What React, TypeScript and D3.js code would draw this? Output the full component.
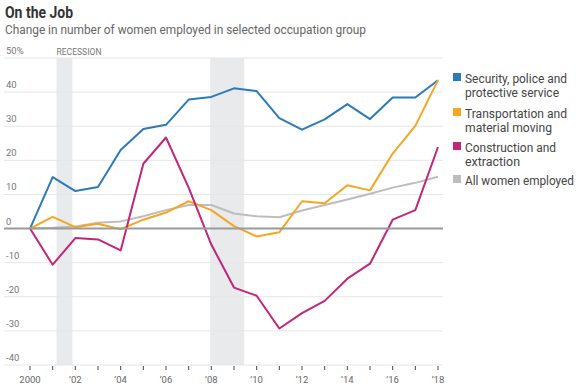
import { useEffect, useRef } from "react"
import * as d3 from "d3"

const years = d3.range(2000, 2019)

const security = [0, 15.1, 11.0, 12.2, 23.0, 29.2, 30.4, 37.8, 38.6, 41.1, 40.3, 32.4, 29.0, 32.0, 36.5, 32.1, 38.4, 38.4, 43.5]
const transport = [0, 3.4, 0.4, 1.4, -0.2, 2.6, 4.7, 8.0, 5.4, 0.7, -2.3, -1.1, 8.0, 7.4, 12.7, 11.2, 22.0, 30.1, 43.5]
const construction = [0, -10.6, -2.8, -3.2, -6.4, 19.0, 26.7, 12.0, -4.7, -17.3, -19.7, -29.3, -24.8, -21.2, -14.7, -10.3, 2.6, 5.4, 23.9]
const allWomen = [0, 0.2, 0.6, 1.7, 2.1, 3.6, 5.4, 6.9, 6.9, 4.4, 3.6, 3.3, 5.3, 6.9, 8.5, 10.2, 12.0, 13.4, 15.2]

const yTicks = [50, 40, 30, 20, 10, 0, -10, -20, -30, -40]
const xLabelYears = [2000, 2002, 2004, 2006, 2008, 2010, 2012, 2014, 2016, 2018]

// recession spans in fractional years
const recessions = [
  [2001.17, 2001.87],
  [2007.95, 2009.45],
]

const series = [
  { name: ["Security, police and", "protective service"], widths: [102, 94], values: security, color: "#2b7bb9" },
  { name: ["Transportation and", "material moving"], widths: [102, 87], values: transport, color: "#f5a623" },
  { name: ["Construction and", "extraction"], widths: [91, 55], values: construction, color: "#c1267a" },
  { name: ["All women employed"], widths: [109], values: allWomen, color: "#bdbdbd" },
]

const FONT = "'Roboto', 'Noto Sans', sans-serif"

export default function App() {
  const svgRef = useRef<SVGSVGElement>(null)

  useEffect(() => {
    document.body.style.margin = "0"
    if (!svgRef.current) return
    const svg = d3.select(svgRef.current)
    svg.selectAll("*").remove()

    const x = d3.scaleLinear().domain([2000, 2018]).range([30, 438])
    const y = d3.scaleLinear().domain([-40, 50]).range([365, 58])
    const gridLeft = 4
    const gridRight = 443

    // title (narrow font squeezed with textLength)
    svg.append("text").attr("x", 5).attr("y", 18)
      .attr("textLength", 68).attr("lengthAdjust", "spacingAndGlyphs")
      .style("font-family", FONT).style("font-size", "16px").style("font-weight", "bold")
      .style("fill", "#333").text("On the Job")
    svg.append("text").attr("x", 5).attr("y", 34)
      .attr("textLength", 361).attr("lengthAdjust", "spacingAndGlyphs")
      .style("font-family", FONT).style("font-size", "12.5px")
      .style("fill", "#666").text("Change in number of women employed in selected occupation group")

    // recession bands
    svg.append("g").selectAll("rect").data(recessions).enter().append("rect")
      .attr("x", (d) => x(d[0]))
      .attr("width", (d) => x(d[1]) - x(d[0]))
      .attr("y", y(50))
      .attr("height", y(-40) - y(50))
      .style("fill", "#e9eaec")

    svg.append("text").attr("x", 56.5).attr("y", 55)
      .attr("textLength", 45).attr("lengthAdjust", "spacingAndGlyphs")
      .style("font-family", FONT).style("font-size", "9.5px")
      .style("fill", "#777").text("RECESSION")

    // gridlines
    svg.append("g").selectAll("line").data(yTicks.filter((d) => d !== 0)).enter().append("line")
      .attr("x1", gridLeft).attr("x2", gridRight)
      .attr("y1", (d) => y(d)).attr("y2", (d) => y(d))
      .style("stroke", "#e6e6e6").style("stroke-width", 1)

    svg.append("g").selectAll("text").data(yTicks).enter().append("text")
      .attr("x", 6).attr("y", (d) => y(d) - 4)
      .style("font-family", FONT).style("font-size", "9.5px")
      .style("fill", "#777")
      .text((d) => (d === 50 ? "50%" : String(d)))

    // x ticks
    svg.append("g").selectAll("line").data(years).enter().append("line")
      .attr("x1", (d) => x(d)).attr("x2", (d) => x(d))
      .attr("y1", y(-40) + 1).attr("y2", y(-40) + 5)
      .style("stroke", "#444").style("stroke-width", 1)

    svg.append("g").selectAll("text").data(xLabelYears).enter().append("text")
      .attr("x", (d) => x(d)).attr("y", 383)
      .attr("text-anchor", "middle")
      .style("font-family", FONT).style("font-size", "9.5px")
      .style("fill", "#666")
      .text((d) => (d === 2000 ? "2000" : "\u2019" + String(d).slice(2)))

    // lines, all women first so it sits behind
    const line = d3.line<number>().x((_, i) => x(years[i])).y((d) => y(d))
    const order = [3, 0, 1, 2]
    svg.append("g").selectAll("path").data(order.map((i) => series[i])).enter().append("path")
      .attr("d", (d) => line(d.values))
      .style("fill", "none")
      .style("stroke", (d) => d.color)
      .style("stroke-width", 2)
      .style("stroke-linejoin", "round")

    // zero line on top
    svg.append("line")
      .attr("x1", gridLeft).attr("x2", gridRight)
      .attr("y1", y(0)).attr("y2", y(0))
      .style("stroke", "#9a9a9a").style("stroke-width", 2)

    // legend
    const legend = svg.append("g").attr("transform", "translate(453,0)")
    const rowTops = [73, 108, 142, 175]
    series.forEach((s, i) => {
      const g = legend.append("g").attr("transform", `translate(0,${rowTops[i]})`)
      g.append("rect").attr("x", 0).attr("y", 0).attr("width", 8).attr("height", 8).style("fill", s.color)
      s.name.forEach((t, j) => {
        g.append("text").attr("x", 12).attr("y", 9.5 + j * 14.7)
          .attr("textLength", s.widths[j]).attr("lengthAdjust", "spacingAndGlyphs")
          .style("font-family", FONT).style("font-size", "12px")
          .style("fill", "#444").text(t)
      })
    })
  }, [])

  return <svg ref={svgRef} width={583} height={390} style={{ display: "block", background: "#fff" }} />
}
